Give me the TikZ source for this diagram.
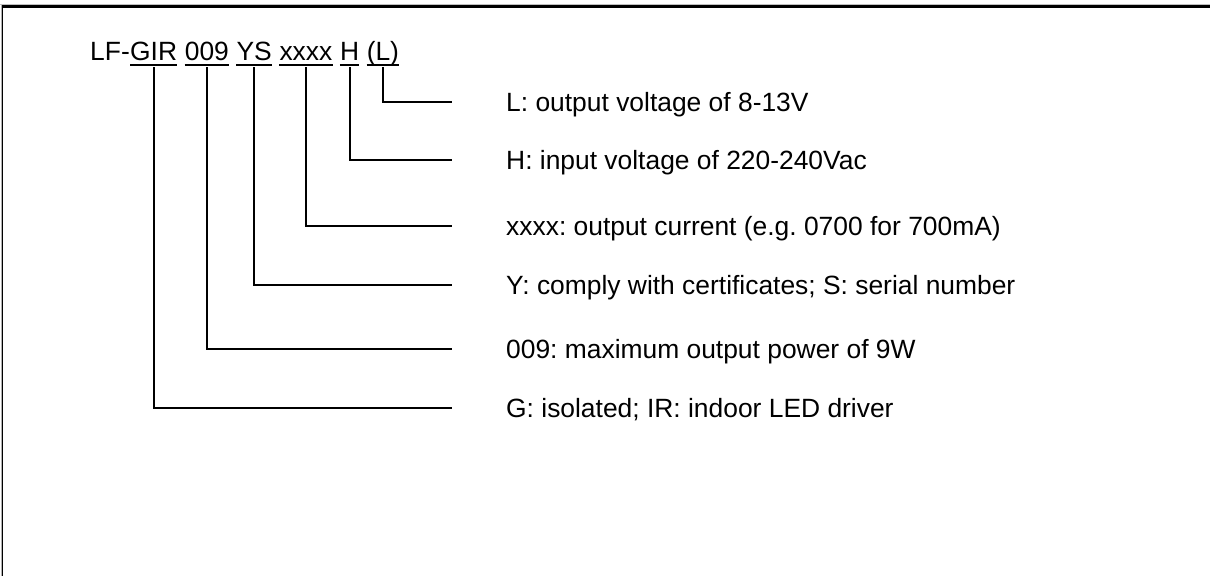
\documentclass[tikz,border=0pt]{standalone}
\usepackage{fontspec}
\setmainfont{Liberation Sans}
\frenchspacing
\tikzset{
  ttl/.style={inner sep=0pt, anchor=base west, font=\fontsize{26.4}{31}\selectfont},
  lbl/.style={inner sep=0pt, anchor=base west, font=\fontsize{26.4}{31}\selectfont},
  conn/.style={line width=2pt, line join=miter},
  uline/.style={line width=1.8pt},
}
\begin{document}
\begin{tikzpicture}[x=1pt,y=-1pt]
\useasboundingbox (0,0) rectangle (1210,576);
% frame (top and left only)
\draw[black!25, line width=1pt] (0,4) -- (1210,4);
\draw[line width=3.2pt] (1,6.6) -- (1210,6.6);
\draw[black!30, line width=0.8pt] (1.2,5) -- (1.2,576);
\draw[line width=1.2pt] (2.8,5) -- (2.8,576);
% title
\node[ttl] (lf) at (90,60.7) {LF-};
\node[ttl] (gir) at (lf.base east) {GIR};
\node[ttl] (n009) at ([xshift=7.3pt]gir.base east) {009};
\node[ttl] (ys) at ([xshift=7.3pt]n009.base east) {YS};
\node[ttl] (xx) at ([xshift=7.3pt]ys.base east) {xxxx};
\node[ttl] (hh) at ([xshift=7.3pt]xx.base east) {H};
\node[ttl] (ll) at ([xshift=7.3pt]hh.base east) {(L)};
\foreach \n in {gir,n009,ys,xx,hh,ll}
  \draw[uline] ([yshift=-4.3pt]\n.base west) -- ([yshift=-4.3pt]\n.base east);
% labels
\node[lbl] (tl) at (506,111.1) {L: output voltage of 8-13V};
\node[lbl] (th) at (506,169.4) {H: input voltage of 220-240Vac};
\node[lbl] (tx) at (506,235.1) {xxxx: output current (e.g. 0700 for 700mA)};
\node[lbl] (ty) at (506,294.4) {Y: comply with certificates; S: serial number};
\node[lbl] (t9) at (506,358.7) {009: maximum output power of 9W};
\node[lbl] (tg) at (506,417.1) {G: isolated; IR: indoor LED driver};
% line ends
\coordinate (el) at (452,101.7);
\coordinate (eh) at (452,160);
\coordinate (ex) at (452,225.7);
\coordinate (ey) at (452,285);
\coordinate (e9) at (452,349.3);
\coordinate (eg) at (452,407.7);
% connectors
\draw[conn] ([yshift=-6.3pt]ll.base) |- (el);
\draw[conn] ([yshift=-6.3pt]hh.base) |- (eh);
\draw[conn] ([yshift=-6.3pt]xx.base) |- (ex);
\draw[conn] ([yshift=-6.3pt]ys.base) |- (ey);
\draw[conn] ([yshift=-6.3pt]n009.base) |- (e9);
\draw[conn] ([yshift=-6.3pt]gir.base) |- (eg);
\end{tikzpicture}
\end{document}
